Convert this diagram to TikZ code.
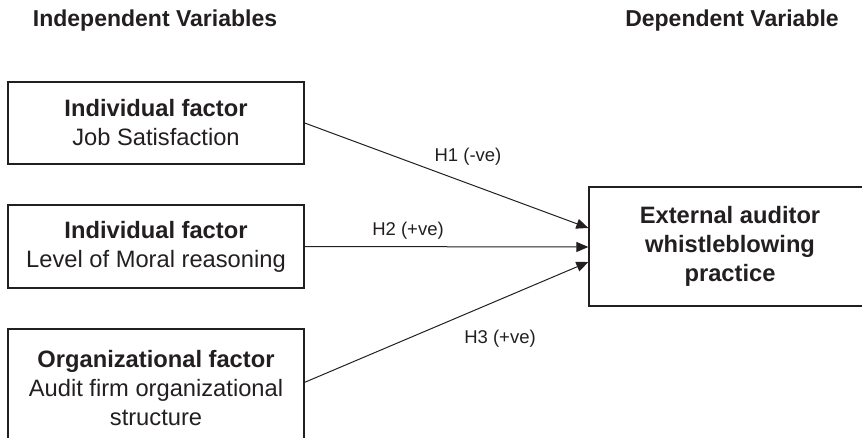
\documentclass[tikz,border=0pt]{standalone}
\usepackage{fontspec}
\setmainfont{Liberation Sans}
\usetikzlibrary{arrows.meta,calc}
\definecolor{ink}{HTML}{231F20}
\tikzset{
  boxtext/.style={font=\fontsize{23.7}{29}\selectfont, text=ink, align=center},
  framebox/.style={draw=ink, line width=1.3pt, inner sep=0pt},
  header/.style={font=\fontsize{23}{28}\selectfont\bfseries, text=ink},
  hlabel/.style={font=\fontsize{18.5}{22}\selectfont, text=ink},
  link/.style={draw=ink, line width=1pt, -{Triangle[length=12pt,width=10pt]}}
}
\begin{document}
\begin{tikzpicture}[x=1pt,y=-1pt]
\useasboundingbox (0,0) rectangle (862,438);
\clip (0,0) rectangle (862,438);
\node[header] (hi) at (155,21) {Independent Variables};
\node[header] (hd) at (732,21) {Dependent Variable};
% left boxes
\node[framebox, minimum width=296pt, minimum height=82pt] (b1) at (156,123) {};
\node[boxtext] (t1) at (b1.center) {\textbf{Individual factor}\\Job Satisfaction};
\node[framebox, minimum width=296pt, minimum height=83pt] (b2) at (156,246.5) {};
\node[boxtext] (t2) at (b2.center) {\textbf{Individual factor}\\Level of Moral reasoning};
\node[framebox, minimum width=296pt, minimum height=140pt] (b3) at (156,399) {};
\node[boxtext, anchor=north] (t3) at (156,347) {\textbf{Organizational factor}\\Audit firm organizational\\structure};
% right box
\node[framebox, minimum width=282pt, minimum height=119pt] (dv) at (730,246.5) {};
\node[boxtext] (td) at (dv.center) {\textbf{External auditor}\\\textbf{whistleblowing}\\\textbf{practice}};
% connector endpoints
\coordinate (s3) at ($(b3.north east)+(0,54)$);
\coordinate (e1) at ($(dv.west)+(0,-18.5)$);
\coordinate (e2) at ($(dv.west)+(0,0.5)$);
\coordinate (e3) at ($(dv.west)+(0,15.5)$);
\draw[link] (b1.east) -- (e1);
\draw[link] (b2.east) -- (e2);
\draw[link] (s3) -- (e3);
\node[hlabel] (l1) at (468,157) {H1 (-ve)};
\node[hlabel] (l2) at (408,231) {H2 (+ve)};
\node[hlabel] (l3) at (500,339) {H3 (+ve)};
\end{tikzpicture}
\end{document}
